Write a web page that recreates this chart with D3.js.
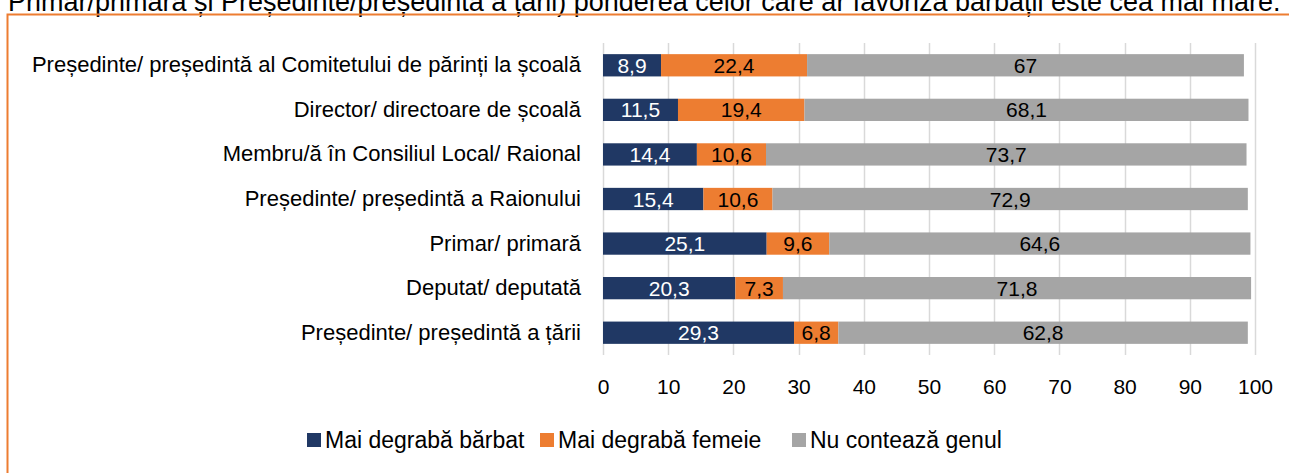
<!DOCTYPE html>
<html>
<head>
<meta charset="utf-8">
<script src="https://cdn.jsdelivr.net/npm/d3@7"></script>
<style>
  html, body { margin: 0; padding: 0; background: #fff; }
  svg text { font-family: "Liberation Sans", Arial, sans-serif; }
</style>
</head>
<body>
<svg id="chart" width="1289" height="473"></svg>
<script>
// Roles asked about, top to bottom
const categories = [
  "Președinte/ președintă al Comitetului de părinți la școală",
  "Director/ directoare de școală",
  "Membru/ă în Consiliul Local/ Raional",
  "Președinte/ președintă a Raionului",
  "Primar/ primară",
  "Deputat/ deputată",
  "Președinte/ președintă a țării"
];
const seriesNames = ["Mai degrabă bărbat", "Mai degrabă femeie", "Nu contează genul"];
const barbat = [8.9, 11.5, 14.4, 15.4, 25.1, 20.3, 29.3];
const femeie = [22.4, 19.4, 10.6, 10.6, 9.6, 7.3, 6.8];
const nuConteaza = [67, 68.1, 73.7, 72.9, 64.6, 71.8, 62.8];
const xTicks = [0, 10, 20, 30, 40, 50, 60, 70, 80, 90, 100];
const headerText = "Primar/primară și Președinte/președinta a țării) ponderea celor care ar favoriza bărbații este cea mai mare.";

const colors = ["#203864", "#ED7D31", "#A5A5A5"];
const labelColors = ["#ffffff", "#000000", "#000000"];

const svg = d3.select("#chart");
const W = 1289, H = 473;

// last line of the preceding paragraph, running off the top edge
svg.append("text")
  .attr("x", 8).attr("y", 11)
  .attr("font-size", 27)
  .attr("fill", "#000")
  .text(headerText);

// frame around the figure
svg.append("path")
  .attr("d", `M7.5,${H} V14.5 H${W}`)
  .attr("fill", "none")
  .attr("stroke", "#ED7D31")
  .attr("stroke-width", 2);

const plot = { left: 603, right: 1255, top: 43, bottom: 355 };

const x = d3.scaleLinear().domain([0, 100]).range([plot.left, plot.right]);
const y = d3.scaleBand().domain(categories).range([plot.top, plot.bottom]).paddingInner(0.5).paddingOuter(0.25);

// vertical gridlines
svg.append("g")
  .selectAll("line")
  .data(xTicks)
  .join("line")
  .attr("x1", d => Math.round(x(d)) + 0.5)
  .attr("x2", d => Math.round(x(d)) + 0.5)
  .attr("y1", plot.top)
  .attr("y2", plot.bottom)
  .attr("stroke", "#D9D9D9")
  .attr("stroke-width", 1.5);

// x axis tick labels
const xAxis = d3.axisBottom(x).tickValues(xTicks).tickSize(0).tickPadding(0).tickFormat(d3.format("d"));
const gx = svg.append("g").attr("transform", `translate(0, 394)`).call(xAxis);
gx.select(".domain").remove();
gx.selectAll("text")
  .attr("font-size", 21)
  .attr("fill", "#000")
  .attr("font-family", "Liberation Sans, Arial, sans-serif")
  .attr("dy", 0);

// category labels
const yAxis = d3.axisLeft(y).tickSize(0).tickPadding(0);
const gy = svg.append("g").attr("transform", `translate(${plot.left - 22}, 0)`).call(yAxis);
gy.select(".domain").remove();
gy.selectAll("text")
  .attr("font-size", 22)
  .attr("fill", "#000")
  .attr("font-family", "Liberation Sans, Arial, sans-serif");

// stacked bars with value labels
const rows = categories.map((c, i) => ({ cat: c, vals: [barbat[i], femeie[i], nuConteaza[i]] }));
const fmt = v => String(v).replace(".", ",");

rows.forEach(r => {
  let acc = 0;
  r.vals.forEach((v, k) => {
    const x0 = x(acc), x1 = x(acc + v);
    svg.append("rect")
      .attr("x", x0).attr("y", y(r.cat))
      .attr("width", x1 - x0).attr("height", y.bandwidth())
      .attr("fill", colors[k]);
    svg.append("text")
      .attr("x", (x0 + x1) / 2)
      .attr("y", y(r.cat) + y.bandwidth() / 2)
      .attr("dy", "0.36em")
      .attr("text-anchor", "middle")
      .attr("font-size", 21)
      .attr("fill", labelColors[k])
      .text(fmt(v));
    acc += v;
  });
});

// legend
const legendX = [307, 540, 792];
const legend = svg.append("g");
seriesNames.forEach((name, k) => {
  legend.append("rect")
    .attr("x", legendX[k]).attr("y", 433)
    .attr("width", 14).attr("height", 14)
    .attr("fill", colors[k]);
  legend.append("text")
    .attr("x", legendX[k] + 18).attr("y", 440)
    .attr("dy", "0.36em")
    .attr("font-size", 23)
    .attr("fill", "#000")
    .text(name);
});
</script>
</body>
</html>
